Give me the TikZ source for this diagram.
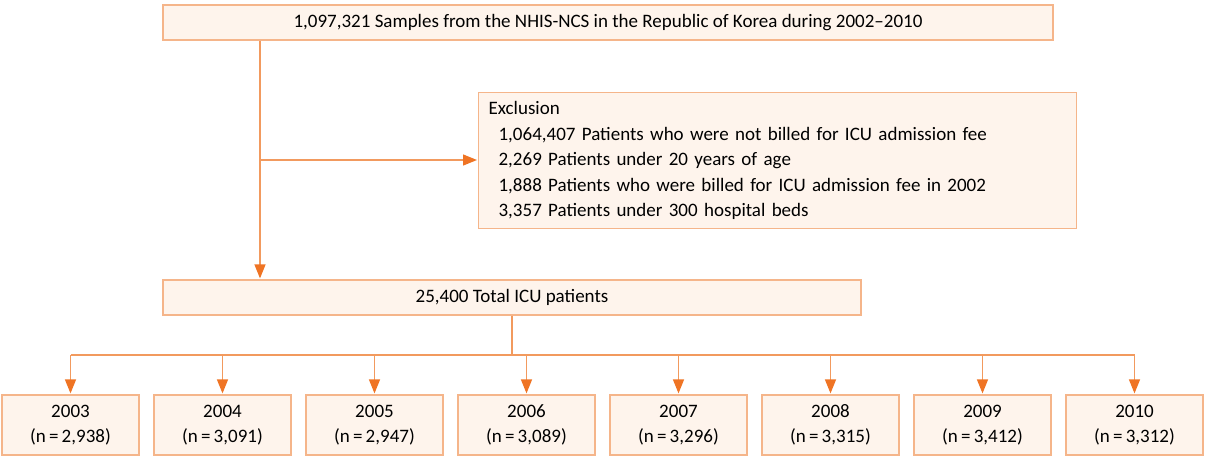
\documentclass[tikz,border=0pt]{standalone}
\usepackage{fontspec}
\setmainfont{Carlito}
\usetikzlibrary{arrows.meta}
\definecolor{boxline}{HTML}{F5B58A}
\definecolor{boxfill}{HTML}{FEF4EC}
\definecolor{linkc}{HTML}{F29A5E}
\definecolor{tipc}{HTML}{EF7424}

\begin{document}
\begin{tikzpicture}[x=1pt,y=-1pt,
  box/.style={draw=boxline,fill=boxfill,line width=1.2pt,inner sep=0pt,font=\fontsize{19}{25.5}\selectfont},
  link/.style={linkc,line width=1.3pt},
  arr/.style={link,-{Triangle[color=tipc,width=11pt,length=14pt]},shorten >=1pt}]
\useasboundingbox (0,0) rectangle (1205,459);
\node[box,minimum width=890pt,minimum height=35pt] (samples) at (608,22.5)
  {1,097,321 Samples from the NHIS-NCS in the Republic of Korea during 2002--2010};
\node[box,anchor=north west,text width=578pt,inner xsep=10pt,minimum height=136pt,align=left] (excl) at (478,92)
  {Exclusion\\
   \hspace*{10pt}1,064,407 Patients who were not billed for ICU admission fee\\
   \hspace*{10pt}2,269 Patients under 20 years of age\\
   \hspace*{10pt}1,888 Patients who were billed for ICU admission fee in 2002\\
   \hspace*{10pt}3,357 Patients under 300 hospital beds};
\node[box,minimum width=698pt,minimum height=35pt] (total) at (512,297.5) {25,400 Total ICU patients};
% one box per year
\foreach \yr/\n [count=\i from 0] in {2003/{2,938}, 2004/{3,091}, 2005/{2,947}, 2006/{3,089},
    2007/{3,296}, 2008/{3,315}, 2009/{3,412}, 2010/{3,312}}
  \node[box,minimum width=137pt,minimum height=60pt,align=center] (y\yr) at (70.5+152*\i,425) {\yr\\(n\,=\,\n)};
\coordinate (split) at (260,160);
\coordinate (fork) at (512,355);
\draw[link] (samples.south -| split) -- (split);
\draw[arr] (split) -- (total.north -| split);
\draw[arr] (split) -- (split -| excl.west);
\draw[link] (total.south -| fork) -- (fork);
\draw[link] (y2003.north |- fork) -- (y2010.north |- fork);
\foreach \yr in {2003,...,2010}
  \draw[arr] (y\yr.north |- fork) -- (y\yr.north);
\end{tikzpicture}
\end{document}
